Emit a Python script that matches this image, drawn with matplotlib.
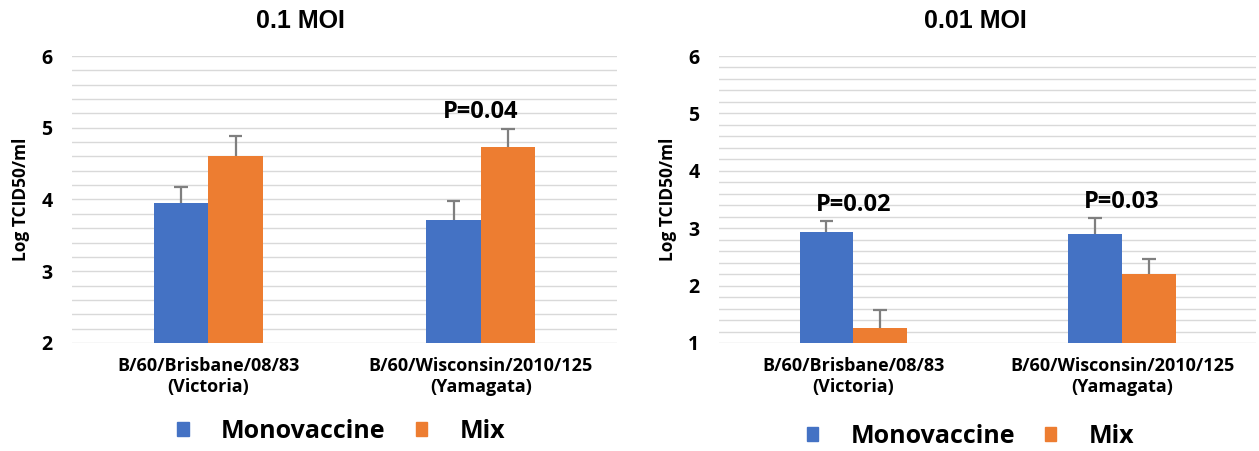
import matplotlib.pyplot as plt
from matplotlib.patches import Patch
import numpy as np

# data
strains = ['B/60/Brisbane/08/83\n(Victoria)', 'B/60/Wisconsin/2010/125\n(Yamagata)']
series = ['Monovaccine', 'Mix']

moi01_mono = [3.95, 3.71]
moi01_mix = [4.60, 4.73]
moi01_mono_err = [0.22, 0.27]
moi01_mix_err = [0.29, 0.25]

moi001_mono = [2.93, 2.90]
moi001_mix = [1.26, 2.21]
moi001_mono_err = [0.20, 0.27]
moi001_mix_err = [0.31, 0.26]

pvals_01 = ['', 'P=0.04']
pvals_001 = ['P=0.02', 'P=0.03']

# styles
blue = '#4472C4'
orange = '#ED7D31'
grid_color = '#d9d9d9'
err_color = '#7f7f7f'
width = 0.2
cap = 0.025
tick_font = 'Open Sans'

fig = plt.figure(figsize=(12.59, 4.51), dpi=100)
ax1 = fig.add_axes([0.0572, 0.2395, 0.433, 0.6363])
ax2 = fig.add_axes([0.571, 0.2395, 0.427, 0.6363])


def draw(ax, mono, mix, mono_err, mix_err, pvals, ymin):
    x = np.arange(len(strains))
    for y in np.arange(ymin, 6.01, 0.2):
        ax.axhline(y, color=grid_color, lw=1.0, zorder=0)
    for xs, vals, errs, col in [(x - width / 2, mono, mono_err, blue),
                                (x + width / 2, mix, mix_err, orange)]:
        ax.bar(xs, vals, width, color=col, zorder=2)
        tops = np.array(vals) + np.array(errs)
        # upper half of the error bar only
        ax.vlines(xs, vals, tops, color=err_color, lw=1.6, zorder=3)
        ax.hlines(tops, xs - cap, xs + cap, color=err_color, lw=1.6, zorder=3)
    # p-value labels above the taller error bar
    for i in range(len(x)):
        if pvals[i]:
            top = max(mono[i] + mono_err[i], mix[i] + mix_err[i])
            ax.text(x[i], top + 0.07, pvals[i], ha='center', va='bottom',
                    fontsize=17, fontweight='bold', family=tick_font)
    ax.set_xlim(-0.5, 1.5)
    ax.set_ylim(ymin, 6)
    ax.set_yticks(np.arange(ymin, 7, 1))
    ax.set_yticklabels([str(v) for v in range(ymin, 7)],
                       fontsize=14, fontweight='bold', family=tick_font)
    ax.set_xticks(x)
    ax.set_xticklabels(strains, fontsize=13, fontweight='bold',
                       family=tick_font, linespacing=1.2)
    ax.tick_params(length=0, pad=14, axis='y')
    ax.tick_params(length=0, pad=10, axis='x')
    for s in ax.spines.values():
        s.set_visible(False)
    ax.set_ylabel('Log TCID50/ml', fontsize=12.5, fontweight='bold',
                  family=tick_font, labelpad=8)


draw(ax1, moi01_mono, moi01_mix, moi01_mono_err, moi01_mix_err, pvals_01, 2)
draw(ax2, moi001_mono, moi001_mix, moi001_mono_err, moi001_mix_err, pvals_001, 1)

fig.text(0.239, 0.953, '0.1 MOI', ha='center', va='center', fontsize=18,
         fontweight='bold', family='Liberation Sans')
fig.text(0.775, 0.953, '0.01 MOI', ha='center', va='center', fontsize=18,
         fontweight='bold', family='Liberation Sans')

handles = [Patch(color=blue), Patch(color=orange)]
for cx, cy in [(0.271, 0.043), (0.771, 0.032)]:
    fig.legend(handles, series, loc='center', bbox_to_anchor=(cx, cy),
               ncol=2, frameon=False, handlelength=0.45, handleheight=0.45,
               handletextpad=1.3, columnspacing=1.2,
               prop={'family': tick_font, 'size': 18, 'weight': 'bold'})

fig.savefig('out.png', dpi=100)
